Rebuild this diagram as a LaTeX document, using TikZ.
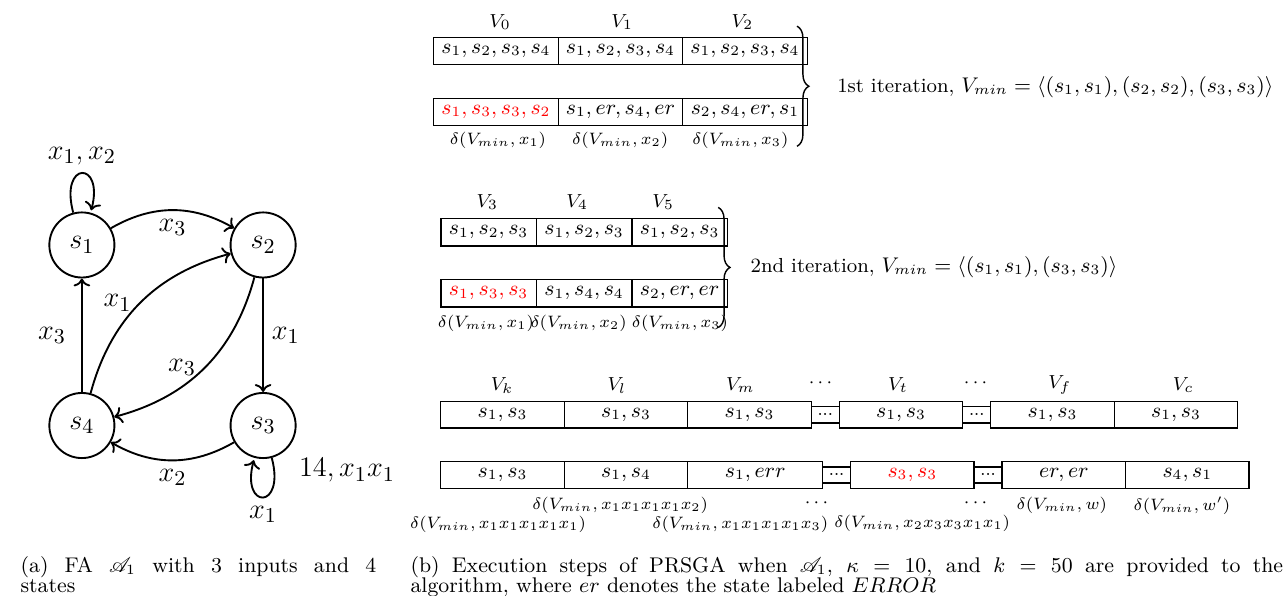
\documentclass[tikz,border=0pt]{standalone}
\usepackage{amsmath, amssymb}
\usepackage{mathrsfs}
\usepackage{tikz}
\usetikzlibrary{arrows.meta, positioning, automata, decorations.pathreplacing}

\tikzset{
  every state/.style={draw, thick, minimum size=0.97cm, inner sep=0pt, font=\fontsize{13}{15}\selectfont},
  cell/.style={draw, semithick, inner sep=0pt, outer sep=0pt, minimum width=1.84cm, minimum height=0.40cm, font=\fontsize{8.6}{10}\selectfont},
  gapbox/.style={draw, semithick, inner sep=0pt, outer sep=0pt, minimum width=0.417cm, minimum height=0.24cm, font=\tiny\bfseries},
  vlbl/.style={font=\fontsize{8}{9.5}\selectfont},
  lbl/.style={font=\fontsize{6.6}{8}\selectfont},
  iterbrace/.style={decorate, decoration={brace, amplitude=5pt}, semithick},
  itertext/.style={anchor=west, font=\fontsize{8.6}{10}\selectfont},
  subcap/.style={anchor=north west, inner sep=0pt, align=justify, font=\fontsize{9}{8.5}\selectfont}
}

\begin{document}
\begin{tikzpicture}
  \useasboundingbox (0,0) rectangle (19.19,8.87);
  % FA A_1
  \node[state] (s1) at (1.22,5.22) {$s_1$};
  \node[state] (s2) at (3.92,5.22) {$s_2$};
  \node[state] (s3) at (3.92,2.53) {$s_3$};
  \node[state] (s4) at (1.22,2.53) {$s_4$};
  \path[->, thick, font=\fontsize{13}{15}\selectfont]
    (s1) edge[loop above] node[above] {$x_1, x_2$} ()
         edge[bend left=30] node[below] {$x_3$} (s2)
    (s2) edge node[right] {$x_1$} (s3)
         edge[bend left=30] node[left] {$x_3$} (s4)
    (s3) edge[loop below] node[below] {$x_1$} ()
         edge[bend left=30] node[below] {$x_2$} (s4)
    (s4) edge node[left=3pt] {$x_3$} (s1)
         edge[bend left=30] node[left] {$x_1$} (s2);
  \node[font=\fontsize{13}{15}\selectfont] (s3note) at (5.17,1.86) {$14, x_1x_1$};

  % 1st iteration
  \node[vlbl] (lv0) at (7.45,8.54) {$V_0$};
  \node[vlbl] (lv1) at (9.27,8.54) {$V_1$};
  \node[vlbl] (lv2) at (11.06,8.54) {$V_2$};
  \node[cell, minimum width=1.855cm] (v0) at (7.39,8.11) {$s_1, s_2, s_3, s_4$};
  \node[cell, minimum width=1.855cm, right=0pt of v0] (v1) {$s_1, s_2, s_3, s_4$};
  \node[cell, minimum width=1.855cm, right=0pt of v1] (v2) {$s_1, s_2, s_3, s_4$};
  \node[cell, minimum width=1.855cm, text=red] (d0) at (7.39,7.20) {$s_1, s_3, s_3, s_2$};
  \node[cell, minimum width=1.855cm, right=0pt of d0] (d1) {$s_1, er, s_4, er$};
  \node[cell, minimum width=1.855cm, right=0pt of d1] (d2) {$s_2, s_4, er, s_1$};
  \node[lbl] (ld0) at (7.42,6.78) {$\delta(V_{min}, x_1)$};
  \node[lbl] (ld1) at (9.24,6.78) {$\delta(V_{min}, x_2)$};
  \node[lbl] (ld2) at (11.03,6.78) {$\delta(V_{min}, x_3)$};
  \draw[iterbrace] (11.875,8.48) -- (11.875,6.69);
  \node[itertext] (it1) at (12.35,7.57) {1st iteration, $V_{min} = \langle (s_1, s_1), (s_2, s_2), (s_3, s_3) \rangle$};

  % 2nd iteration
  \node[vlbl] (lv3) at (7.26,5.86) {$V_3$};
  \node[vlbl] (lv4) at (8.60,5.86) {$V_4$};
  \node[vlbl] (lv5) at (9.88,5.86) {$V_5$};
  \node[cell, minimum width=1.423cm, minimum height=0.41cm] (v3) at (7.28,5.41) {$s_1, s_2, s_3$};
  \node[cell, minimum width=1.423cm, minimum height=0.41cm, right=0pt of v3] (v4) {$s_1, s_2, s_3$};
  \node[cell, minimum width=1.423cm, minimum height=0.41cm, right=0pt of v4] (v5) {$s_1, s_2, s_3$};
  \node[cell, minimum width=1.423cm, minimum height=0.41cm, text=red] (d3) at (7.28,4.50) {$s_1, s_3, s_3$};
  \node[cell, minimum width=1.423cm, minimum height=0.41cm, right=0pt of d3] (d4) {$s_1, s_4, s_4$};
  \node[cell, minimum width=1.423cm, minimum height=0.41cm, right=0pt of d4] (d5) {$s_2, er, er$};
  \node[lbl] (ld3) at (7.24,4.05) {$\delta(V_{min}, x_1)$};
  \node[lbl] (ld4) at (8.62,4.05) {$\delta(V_{min}, x_2)$};
  \node[lbl] (ld5) at (10.13,4.05) {$\delta(V_{min}, x_3)$};
  \draw[iterbrace] (10.70,5.78) -- (10.70,3.99);
  \node[itertext] (it2) at (11.06,4.89) {2nd iteration, $V_{min} = \langle (s_1, s_1), (s_3, s_3) \rangle$};

  % last iterations
  \node[vlbl] (lvk) at (7.48,3.13) {$V_k$};
  \node[vlbl] (lvl) at (9.19,3.13) {$V_l$};
  \node[vlbl] (lvm) at (11.03,3.13) {$V_m$};
  \node[vlbl] (ldots1) at (12.25,3.16) {$\cdots$};
  \node[vlbl] (lvt) at (13.38,3.13) {$V_t$};
  \node[vlbl] (ldots2) at (14.56,3.16) {$\cdots$};
  \node[vlbl] (lvf) at (15.79,3.13) {$V_f$};
  \node[vlbl] (lvc) at (17.63,3.13) {$V_c$};
  \node[cell] (vk) at (7.487,2.69) {$s_1, s_3$};
  \node[cell, right=0pt of vk] (vl) {$s_1, s_3$};
  \node[cell, right=0pt of vl] (vm) {$s_1, s_3$};
  \node[gapbox, right=0pt of vm] (g1) {...};
  \node[cell, right=0pt of g1] (vt) {$s_1, s_3$};
  \node[gapbox, right=0pt of vt] (g2) {...};
  \node[cell, right=0pt of g2] (vf) {$s_1, s_3$};
  \node[cell, right=0pt of vf] (vc) {$s_1, s_3$};
  \node[cell] (dk) at (7.487,1.795) {$s_1, s_3$};
  \node[cell, right=0pt of dk] (dl) {$s_1, s_4$};
  \node[cell, minimum width=2.01cm, right=0pt of dl] (dm) {$s_1, err$};
  \node[gapbox, right=0pt of dm] (g3) {...};
  \node[cell, text=red, right=0pt of g3] (dt) {$s_3, s_3$};
  \node[gapbox, right=0pt of dt] (g4) {...};
  \node[cell, right=0pt of g4] (df) {$er, er$};
  \node[cell, right=0pt of df] (dc) {$s_4, s_1$};
  \node[lbl] (ldl) at (9.24,1.34) {$\delta(V_{min}, x_1x_1x_1x_1x_2)$};
  \node[lbl] (ldk) at (7.42,1.06) {$\delta(V_{min}, x_1x_1x_1x_1x_1)$};
  \node[vlbl] (ldots3) at (12.19,1.37) {$\cdots$};
  \node[lbl] (ldm) at (11.03,1.06) {$\delta(V_{min}, x_1x_1x_1x_1x_3)$};
  \node[vlbl] (ldots4) at (14.56,1.37) {$\cdots$};
  \node[lbl] (ldt) at (13.74,1.07) {$\delta(V_{min}, x_2x_3x_3x_1x_1)$};
  \node[lbl] (ldf) at (15.82,1.34) {$\delta(V_{min}, w)$};
  \node[lbl] (ldc) at (17.61,1.34) {$\delta(V_{min}, w')$};

  % captions
  \node[subcap, text width=5.3cm] (capa) at (0.30,0.59) {(a) FA $\mathscr{A}_1$ with 3 inputs and 4\linebreak states};
  \node[subcap, text width=13.0cm] (capb) at (6.11,0.59) {(b) Execution steps of PRSGA when $\mathscr{A}_1$, $\kappa = 10$, and $k = 50$ are provided to the\linebreak algorithm, where $er$ denotes the state labeled $ERROR$};
\end{tikzpicture}
\end{document}
